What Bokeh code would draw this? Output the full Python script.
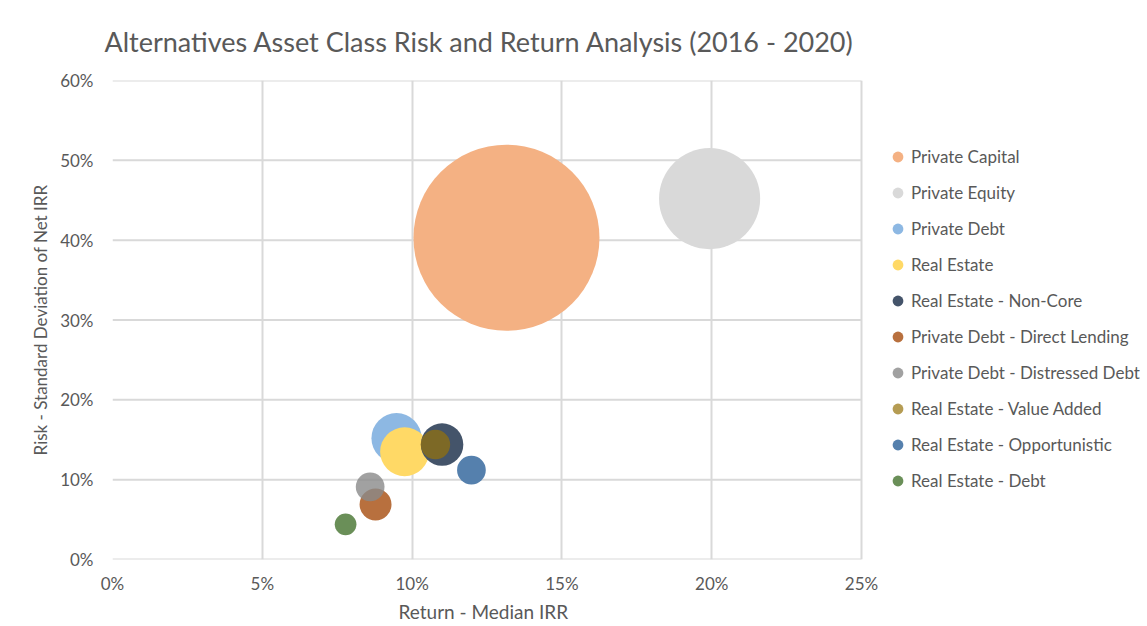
import numpy as np
from bokeh.plotting import figure
from bokeh.models import (ColumnDataSource, Legend, LegendItem, NumeralTickFormatter,
                          FixedTicker, Range1d, Title)
from bokeh.embed import file_html
from bokeh.resources import INLINE

# ---- data ----
series = ["Private Capital", "Private Equity", "Private Debt", "Real Estate",
          "Real Estate - Non-Core", "Private Debt - Direct Lending",
          "Private Debt - Distressed Debt", "Real Estate - Value Added",
          "Real Estate - Opportunistic", "Real Estate - Debt"]
ret = [0.1315, 0.1993, 0.0948, 0.0975, 0.1100, 0.0878, 0.0860, 0.1078, 0.1198, 0.0778]
risk = [0.403, 0.452, 0.152, 0.135, 0.144, 0.069, 0.091, 0.144, 0.112, 0.044]
bubble_size = [88.0, 26.0, 6.4, 6.1, 4.6, 2.6, 2.1, 2.2, 2.1, 1.2]
colors = ["#F4B183", "#D9D9D9", "#8DB8E3", "#FFD966", "#44546A", "#B8703E",
          "#8A8A8A", "#96720A", "#5580AD", "#6A8F58"]
alphas = [1, 1, 1, 1, 1, 1, 0.8, 0.7, 1, 1]
x_ticks = [0, 0.05, 0.10, 0.15, 0.20, 0.25]
y_ticks = [0, 0.1, 0.2, 0.3, 0.4, 0.5, 0.6]

TXT = "#595959"
FONT = "Lato"

# layout (pixels)
W, H = 1147, 626
FL, FR, FT, FB = 112, 1140, 80, 559          # frame edges
AXIS_PX = 749                                  # pixel length of 0..25% axis
x_end = x_ticks[-1] * (FR - FL) / AXIS_PX      # frame extends right to hold the legend

p = figure(width=W, height=H, output_backend="svg", toolbar_location=None,
           x_range=Range1d(0, x_end), y_range=Range1d(y_ticks[0], y_ticks[-1]),
           min_border_left=FL, min_border_right=W - FR, min_border_top=FT,
           min_border_bottom=H - FB)

p.title.text = "Alternatives Asset Class Risk and Return Analysis (2016 - 2020)"
p.title.text_font = FONT
p.title.text_font_size = "27px"
p.title.text_font_style = "normal"
p.title.text_color = TXT
p.title.align = "left"
p.title.offset = -8
p.title.standoff = 45

p.outline_line_color = None
p.background_fill_color = "white"
p.border_fill_color = "white"

# grid: vertical lines at x ticks, horizontal lines limited to the 0..25% area
p.xgrid.grid_line_color = "#D9D9D9"
p.xgrid.grid_line_width = 2
p.ygrid.grid_line_color = None
p.segment(x0=[x_ticks[0]] * len(y_ticks), x1=[x_ticks[-1]] * len(y_ticks),
          y0=y_ticks, y1=y_ticks, line_color="#D9D9D9", line_width=2, level="underlay")

scale = 186.0 / np.sqrt(bubble_size[0])
items = []
for i, name in enumerate(series):
    src = ColumnDataSource(dict(x=[ret[i]], y=[risk[i]],
                                s=[scale * np.sqrt(bubble_size[i])]))
    r = p.scatter("x", "y", size="s", source=src, marker="circle",
                  fill_color=colors[i], fill_alpha=alphas[i], line_color=None)
    items.append(LegendItem(label=name, renderers=[r]))

legend = Legend(items=items, location=(772, 65), orientation="vertical")
legend.glyph_width = 27
legend.glyph_height = 27
legend.label_height = 27
legend.spacing = 9
legend.padding = 0
legend.margin = 0
legend.label_standoff = -2
legend.border_line_color = None
legend.background_fill_alpha = 0
legend.label_text_font = FONT
legend.label_text_font_size = "17px"
legend.label_text_color = TXT
p.add_layout(legend, "center")

for ax in (p.xaxis[0], p.yaxis[0]):
    ax.major_tick_line_color = None
    ax.minor_tick_line_color = None
    ax.axis_line_color = None
    ax.major_label_text_font = FONT
    ax.major_label_text_font_size = "17px"
    ax.major_label_text_color = TXT
    ax.axis_label_text_font = FONT
    ax.axis_label_text_font_size = "17px"
    ax.axis_label_text_font_style = "normal"
    ax.axis_label_text_color = TXT
    ax.formatter = NumeralTickFormatter(format="0%")

p.xaxis.ticker = FixedTicker(ticks=x_ticks)
p.yaxis.ticker = FixedTicker(ticks=y_ticks)
p.yaxis.axis_label = "Risk - Standard Deviation of Net IRR"
p.xaxis.major_label_standoff = 7
p.yaxis.major_label_standoff = 13
p.yaxis.axis_label_standoff = 6

xlab = Title(text="Return - Median IRR", align="left", offset=286,
             text_font=FONT, text_font_size="19px", text_font_style="normal",
             text_color=TXT, standoff=2)
p.add_layout(xlab, "below")

open("out.html", "w").write(file_html(p, INLINE))
